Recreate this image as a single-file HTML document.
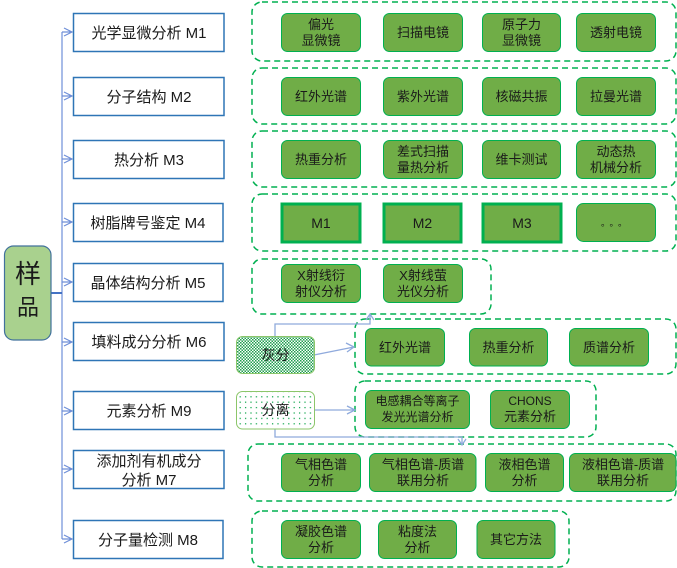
<!DOCTYPE html>
<html><head><meta charset="utf-8"><style>
html,body{margin:0;padding:0;background:#fff;}
svg{display:block;}
text{font-family:"Liberation Sans","Noto Sans CJK SC",sans-serif;fill:#1a1a1a;}
.lb{fill:#fff;stroke:#2E75B6;stroke-width:1.5;}
.lt{font-size:15px;text-anchor:middle;}
.grp{fill:none;stroke:#00B050;stroke-width:1.5;stroke-dasharray:6 4;}
.gb{fill:#70AD47;stroke:#00B050;stroke-width:1;}
.gbt{fill:#70AD47;stroke:#00B050;stroke-width:3;}
.gt{font-size:13px;text-anchor:middle;}
.tr{stroke:#6F8FD8;stroke-width:1.2;fill:none;}
.cn{stroke:#8FAADC;stroke-width:1.3;fill:none;}
</style></head><body>
<svg width="677" height="568" viewBox="0 0 677 568" xmlns="http://www.w3.org/2000/svg">
<defs>
<pattern id="chk" width="3" height="3" patternUnits="userSpaceOnUse">
<rect width="3" height="3" fill="#fff"/><rect width="1.5" height="1.5" fill="#1E9E4E"/><rect x="1.5" y="1.5" width="1.5" height="1.5" fill="#1E9E4E"/>
</pattern>
<pattern id="dot" width="5.4" height="5.4" patternUnits="userSpaceOnUse">
<rect width="5.4" height="5.4" fill="#fff"/><rect x="2" y="2" width="1.2" height="1.2" fill="#00A040"/>
</pattern>
</defs>

<!-- tree -->
<line class="tr" x1="62" y1="32" x2="62" y2="539"/>
<line x1="51" y1="293" x2="62" y2="293" stroke="#4472C4" stroke-width="2"/>
<g class="tr">
<path d="M62 32H72M64 28L72 32L64 36"/>
<path d="M62 96H72M64 92L72 96L64 100"/>
<path d="M62 159H72M64 155L72 159L64 163"/>
<path d="M62 222H72M64 218L72 222L64 226"/>
<path d="M62 282H72M64 278L72 282L64 286"/>
<path d="M62 342H72M64 338L72 342L64 346"/>
<path d="M62 411H72M64 407L72 411L64 415"/>
<path d="M62 469H72M64 465L72 469L64 473"/>
<path d="M62 539H72M64 535L72 539L64 543"/>
</g>

<!-- sample -->
<rect x="4.5" y="246" width="46.5" height="94" rx="9" fill="#A9D18E" stroke="#41719C" stroke-width="1.2"/>
<text x="28" y="283" style="font-size:26px;text-anchor:middle">样</text>
<text x="28" y="315" style="font-size:22px;text-anchor:middle">品</text>

<!-- left boxes -->
<rect class="lb" x="73.5" y="13.5" width="150.5" height="38"/>
<text class="lt" x="149" y="38">光学显微分析 M1</text>
<rect class="lb" x="73.5" y="77.5" width="150.5" height="38"/>
<text class="lt" x="149" y="102">分子结构 M2</text>
<rect class="lb" x="73.5" y="140.5" width="150.5" height="38"/>
<text class="lt" x="149" y="165">热分析 M3</text>
<rect class="lb" x="73.5" y="203.5" width="149.5" height="38"/>
<text class="lt" x="148" y="228">树脂牌号鉴定 M4</text>
<rect class="lb" x="73.5" y="263.5" width="149.5" height="38"/>
<text class="lt" x="148" y="288">晶体结构分析 M5</text>
<rect class="lb" x="73.5" y="322.5" width="150.5" height="38"/>
<text class="lt" x="149" y="347">填料成分分析 M6</text>
<rect class="lb" x="73.5" y="391.5" width="150.5" height="38"/>
<text class="lt" x="149" y="416">元素分析 M9</text>
<rect class="lb" x="73.5" y="450.5" width="150.5" height="38"/>
<text class="lt" x="149" y="466">添加剂有机成分</text>
<text class="lt" x="149" y="485">分析 M7</text>
<rect class="lb" x="73.5" y="520.5" width="149.5" height="38"/>
<text class="lt" x="148" y="545">分子量检测 M8</text>

<!-- groups -->
<rect class="grp" x="252" y="2" width="424" height="59" rx="10"/>
<rect class="grp" x="252" y="68" width="424" height="56" rx="10"/>
<rect class="grp" x="252" y="131" width="424" height="56" rx="10"/>
<rect class="grp" x="252" y="194" width="424" height="57" rx="10"/>
<rect class="grp" x="252" y="259" width="239" height="55" rx="10"/>
<rect class="grp" x="355" y="319" width="321" height="55" rx="10"/>
<rect class="grp" x="355" y="381" width="241" height="56" rx="10"/>
<rect class="grp" x="248" y="444" width="428" height="57" rx="10"/>
<rect class="grp" x="252" y="511" width="317" height="56" rx="10"/>

<!-- group 1 -->
<rect class="gb" x="281.5" y="13.5" width="79" height="38" rx="6"/>
<text class="gt" x="321" y="29">偏光</text><text class="gt" x="321" y="45">显微镜</text>
<rect class="gb" x="383.5" y="13.5" width="79" height="38" rx="6"/>
<text class="gt" x="423" y="37">扫描电镜</text>
<rect class="gb" x="482.5" y="13.5" width="78" height="38" rx="6"/>
<text class="gt" x="521.5" y="29">原子力</text><text class="gt" x="521.5" y="45">显微镜</text>
<rect class="gb" x="576.5" y="13.5" width="79" height="38" rx="6"/>
<text class="gt" x="616" y="37">透射电镜</text>

<!-- group 2 -->
<rect class="gb" x="281.5" y="77.5" width="79" height="38" rx="6"/>
<text class="gt" x="321" y="101">红外光谱</text>
<rect class="gb" x="383.5" y="77.5" width="79" height="38" rx="6"/>
<text class="gt" x="423" y="101">紫外光谱</text>
<rect class="gb" x="482.5" y="77.5" width="78" height="38" rx="6"/>
<text class="gt" x="521.5" y="101">核磁共振</text>
<rect class="gb" x="576.5" y="77.5" width="79" height="38" rx="6"/>
<text class="gt" x="616" y="101">拉曼光谱</text>

<!-- group 3 -->
<rect class="gb" x="281.5" y="140.5" width="79" height="38" rx="6"/>
<text class="gt" x="321" y="164">热重分析</text>
<rect class="gb" x="383.5" y="140.5" width="79" height="38" rx="6"/>
<text class="gt" x="423" y="156">差式扫描</text><text class="gt" x="423" y="172">量热分析</text>
<rect class="gb" x="482.5" y="140.5" width="78" height="38" rx="6"/>
<text class="gt" x="521.5" y="164">维卡测试</text>
<rect class="gb" x="576.5" y="140.5" width="79" height="38" rx="6"/>
<text class="gt" x="616" y="156">动态热</text><text class="gt" x="616" y="172">机械分析</text>

<!-- group 4 -->
<rect class="gbt" x="282" y="204" width="78" height="38"/>
<text class="gt" x="321" y="228" style="font-size:14px">M1</text>
<rect class="gbt" x="384" y="204" width="77" height="38"/>
<text class="gt" x="422.5" y="228" style="font-size:14px">M2</text>
<rect class="gbt" x="483" y="204" width="78" height="38"/>
<text class="gt" x="522" y="228" style="font-size:14px">M3</text>
<rect class="gb" x="576.5" y="203.5" width="79" height="38" rx="7"/>
<text class="gt" x="616" y="226" style="font-size:9px;letter-spacing:4px">。。。</text>

<!-- group 5 -->
<rect class="gb" x="281.5" y="264.5" width="79" height="38" rx="6"/>
<text class="gt" x="321" y="280">X射线衍</text><text class="gt" x="321" y="296">射仪分析</text>
<rect class="gb" x="383.5" y="264.5" width="79" height="38" rx="6"/>
<text class="gt" x="423" y="280">X射线萤</text><text class="gt" x="423" y="296">光仪分析</text>

<!-- group 6 -->
<rect class="gb" x="365.5" y="328.5" width="79" height="37.5" rx="6"/>
<text class="gt" x="405" y="352">红外光谱</text>
<rect class="gb" x="469.5" y="328.5" width="78" height="37.5" rx="6"/>
<text class="gt" x="508.5" y="352">热重分析</text>
<rect class="gb" x="569.5" y="328.5" width="79" height="37.5" rx="6"/>
<text class="gt" x="609" y="352">质谱分析</text>

<!-- group 7 -->
<rect class="gb" x="365.5" y="390.5" width="104" height="38" rx="6"/>
<text class="gt" x="417.5" y="405" style="font-size:12px">电感耦合等离子</text><text class="gt" x="417.5" y="421" style="font-size:12px">发光光谱分析</text>
<rect class="gb" x="490.5" y="390.5" width="79" height="38" rx="6"/>
<text class="gt" x="530" y="405" style="font-size:12px">CHONS</text><text class="gt" x="530" y="421">元素分析</text>

<!-- group 8 -->
<rect class="gb" x="281.5" y="453.5" width="79" height="38" rx="6"/>
<text class="gt" x="321" y="469">气相色谱</text><text class="gt" x="321" y="485">分析</text>
<rect class="gb" x="369.5" y="453.5" width="106.5" height="38" rx="6"/>
<text class="gt" x="423" y="469">气相色谱-质谱</text><text class="gt" x="423" y="485">联用分析</text>
<rect class="gb" x="485.5" y="453.5" width="78" height="38" rx="6"/>
<text class="gt" x="524.5" y="469">液相色谱</text><text class="gt" x="524.5" y="485">分析</text>
<rect class="gb" x="569.5" y="453.5" width="106.5" height="38" rx="6"/>
<text class="gt" x="623" y="469">液相色谱-质谱</text><text class="gt" x="623" y="485">联用分析</text>

<!-- group 9 -->
<rect class="gb" x="281.5" y="520.5" width="79" height="38" rx="6"/>
<text class="gt" x="321" y="536">凝胶色谱</text><text class="gt" x="321" y="552">分析</text>
<rect class="gb" x="378.5" y="520.5" width="78" height="38" rx="6"/>
<text class="gt" x="417.5" y="536">粘度法</text><text class="gt" x="417.5" y="552">分析</text>
<rect class="gb" x="477" y="520.5" width="78" height="38" rx="6"/>
<text class="gt" x="516" y="544">其它方法</text>

<!-- connectors -->
<path class="cn" d="M275 336V324H370V315M366 320L370 314L374 320"/>
<path class="cn" d="M314 355L354 347M346 343L354 347L347 352"/>
<path class="cn" d="M314 410H355M347 406L355 410L347 414"/>
<path class="cn" d="M275 429V437H462V444M458 439L462 445L466 439"/>

<!-- 灰分 / 分离 -->
<rect x="236.5" y="336.5" width="78" height="37" rx="6" fill="url(#chk)" stroke="#8CC66A" stroke-width="1"/>
<text x="275.5" y="360" style="font-size:14px;text-anchor:middle">灰分</text>
<rect x="236.5" y="391.5" width="78" height="37.5" rx="6" fill="url(#dot)" stroke="#8CC66A" stroke-width="1"/>
<text x="275.5" y="415" style="font-size:14px;text-anchor:middle">分离</text>
</svg>
</body></html>
